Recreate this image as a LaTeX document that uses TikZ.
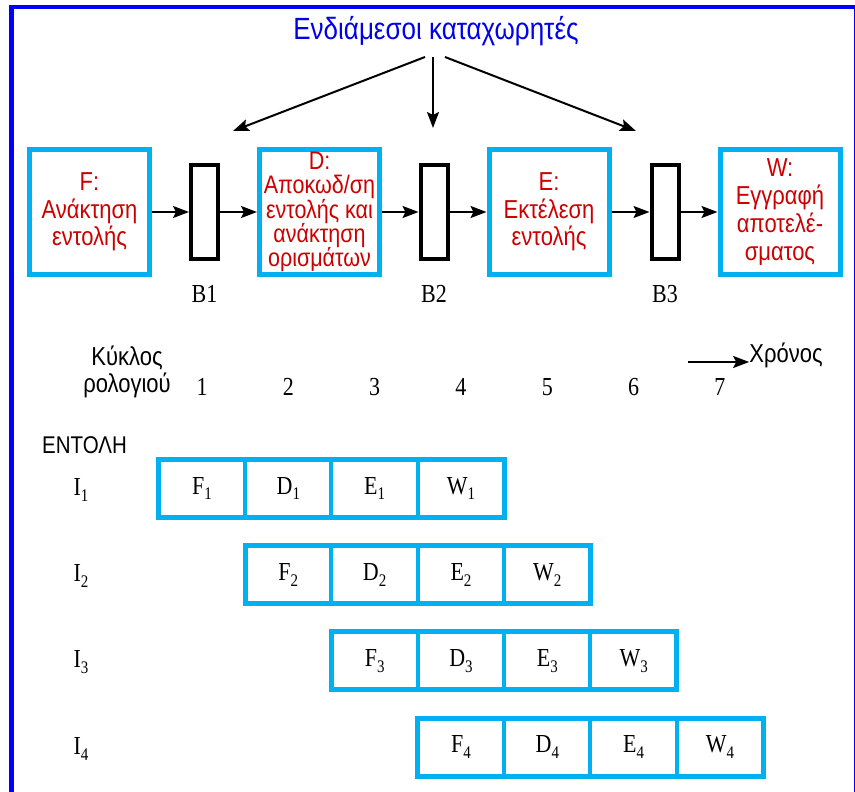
\documentclass[tikz,border=0pt]{standalone}
\usepackage{fontspec}
\setmainfont{Liberation Serif}
\setsansfont{Liberation Sans}
\usetikzlibrary{arrows.meta}
\definecolor{cyanb}{RGB}{0,176,240}
\definecolor{redt}{RGB}{204,0,0}
\definecolor{frameblue}{RGB}{0,0,255}
\definecolor{titleblue}{RGB}{0,0,235}
\newcommand\lsub[1]{\raisebox{-5pt}{\fontsize{15}{15}\selectfont #1}}
\newcommand\tall[1]{\scalebox{1}[1.18]{#1}}
\newcommand\tallblock[1]{\scalebox{1}[1.18]{\begin{tabular}{@{}c@{}}#1\end{tabular}}}
\newcommand\stagetext[2]{\scalebox{1}[1.18]{\parbox{114pt}{\centering\lineskiplimit=-100pt\baselineskip=#1pt #2\par}}}
\begin{document}
\begin{tikzpicture}[x=1pt,y=-1pt,
  stage/.style={draw=cyanb, line width=5pt, minimum width=120pt, minimum height=125pt, inner sep=0pt, text=redt, font=\sffamily\fontsize{22}{23.5}\selectfont},
  tight/.style={font=\sffamily\fontsize{21.5}{20.5}\selectfont},
  reg/.style={draw=black, line width=4pt, minimum width=27pt, minimum height=94pt, inner sep=0pt},
  arr/.style={line width=2pt, -{Stealth[length=16pt,width=12pt,inset=3pt]}},
  serif/.style={font=\rmfamily\fontsize{22}{26}\selectfont, inner sep=0pt},
  cell/.style={draw=cyanb, line width=4pt, minimum width=86.33pt, minimum height=58pt, inner sep=0pt, outer sep=0pt, font=\rmfamily\fontsize{22}{26}\selectfont},
  rowframe/.style={draw=cyanb, line width=5pt},
  lbl/.style={font=\sffamily\fontsize{22}{22}\selectfont, inner sep=0pt}
]
\useasboundingbox (0,0) rectangle (855,792);
\draw[frameblue, line width=4.5pt] (11.5,900) -- (11.5,7) -- (856,7) -- (856,900);

% title and arrows
\node[font=\sffamily\fontsize{26}{30}\selectfont, text=titleblue, inner sep=0pt] (ttl) at (436,31) {\tall{Ενδιάμεσοι καταχωρητές}};
\coordinate (s1) at (425,57);
\coordinate (s2) at (433,57);
\coordinate (s3) at (445,57);
\coordinate (t1) at (233,131);
\coordinate (t2) at (433,128);
\coordinate (t3) at (636,131);
\draw[arr] (s1) -- (t1);
\draw[arr] (s2) -- (t2);
\draw[arr] (s3) -- (t3);

% stages
\node[stage] (F) at (89.5,212) {\stagetext{23.5}{F:\\Ανάκτηση\\εντολής}};
\node[stage, tight] (D) at (319.5,212) {\stagetext{20.6}{D:\\Αποκωδ/ση\\εντολής και\\ανάκτηση\\ορισμάτων}};
\node[stage] (E) at (549,212) {\stagetext{23.5}{E:\\Εκτέλεση\\εντολής}};
\node[stage] (W) at (780,212) {\stagetext{23.5}{W:\\Εγγραφή\\αποτελέ-\\σματος}};
\node[reg] (B1) at (204.5,212) {};
\node[reg] (B2) at (434,212) {};
\node[reg] (B3) at (665,212) {};
\draw[arr] (F) -- (B1);
\draw[arr] (B1) -- (D);
\draw[arr] (D) -- (B2);
\draw[arr] (B2) -- (E);
\draw[arr] (E) -- (B3);
\draw[arr] (B3) -- (W);
\node[serif] (lb1) at (204.5,294) {\tall{B1}};
\node[serif] (lb2) at (434,294) {\tall{B2}};
\node[serif] (lb3) at (665,294) {\tall{B3}};

% clock cycles
\node[lbl, font=\sffamily\fontsize{22}{22.5}\selectfont] (kyk) at (127,373) {\tallblock{Κύκλος\\ρολογιού}};
\foreach \k in {1,...,7}{
  \node[serif] (n\k) at ({202+86.33*(\k-1)},387) {\tall{\k}};
}
\coordinate (ta) at (688,362);
\node[lbl] (chr) at (786,355) {\tall{Χρόνος}};
\draw[arr] (ta) -- (ta -| chr.west);
\node[lbl, font=\sffamily\fontsize{20.5}{22}\selectfont] (ent) at (84.5,445) {\tall{ΕΝΤΟΛΗ}};

% instruction rows
\foreach \i in {1,...,4}{
  \foreach \j/\s in {1/F,2/D,3/E,4/W}{
    \pgfmathsetmacro\cx{202+86.33*(\i+\j-2)}
    \pgfmathsetmacro\cy{488.5+86.2*(\i-1)}
    \node[cell] (c\i\j) at (\cx,\cy) {\tall{\s\lsub{\i}}};
  }
  \draw[rowframe] (c\i1.north west) rectangle (c\i4.south east);
  \node[serif] (I\i) at (81,{490+86.2*(\i-1)}) {\tall{I\lsub{\i}}};
}
\end{tikzpicture}
\end{document}
